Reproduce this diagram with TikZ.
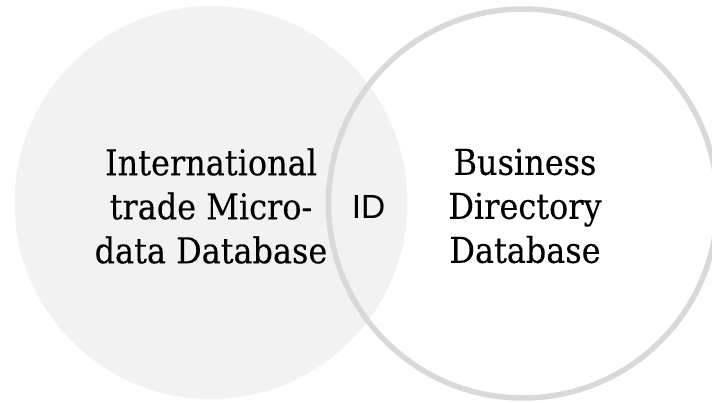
\documentclass[tikz,border=0pt]{standalone}
\usepackage{fontspec}
\setmainfont[FakeBold=0.2]{DejaVu Serif Condensed}
\newfontfamily\idfont{Liberation Sans}
\definecolor{leftfill}{HTML}{F2F2F2}
\definecolor{rightline}{HTML}{D9D9D9}
\tikzset{
  setleft/.style={circle, fill=leftfill, inner sep=0pt, minimum size=393pt},
  setright/.style={circle, draw=rightline, line width=5.5pt, inner sep=0pt, minimum size=389pt},
  setlabel/.style={align=center, text=black, inner sep=0pt, font=\fontsize{35.5}{44}\selectfont},
  idlabel/.style={text=black, inner sep=0pt, font=\idfont\fontsize{33.5}{36}\selectfont}
}
\begin{document}
\begin{tikzpicture}[x=1pt,y=-1pt]
\useasboundingbox (0,0) rectangle (712,402);
\node[setleft] (left) at (211,202.5) {};
\node[setright] (right) at (523,203.5) {};
\node[setlabel] (imdb) at (211,206) {International\\trade Micro-\\data Database};
\node[setlabel] (bddb) at (525,206) {Business\\Directory\\Database};
\node[idlabel, anchor=base] (id) at (368.5,218.5) {ID};
\end{tikzpicture}
\end{document}
